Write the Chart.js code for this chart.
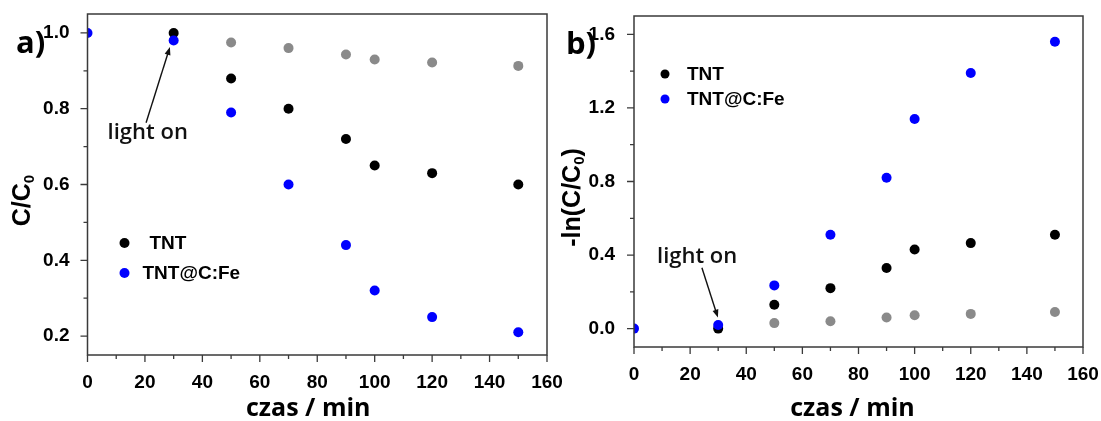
<!DOCTYPE html>
<html>
<head>
<meta charset="utf-8">
<script src="https://cdn.jsdelivr.net/npm/chart.js@4"></script>
<style>
  html, body { margin: 0; padding: 0; background: #fff; }
  body { width: 1101px; height: 421px; position: relative; overflow: hidden; }
  .wrap { position: absolute; top: 0; height: 421px; }
  #wa { left: 0; width: 570px; }
  #wb { left: 553px; width: 548px; }
</style>
</head>
<body>
<div class="wrap" id="wa"><canvas id="ca" width="570" height="421"></canvas></div>
<div class="wrap" id="wb"><canvas id="cb" width="548" height="421"></canvas></div>
<script>
// ---------- DATA ----------
// Panel a) C/C0 vs time
const timeA_TNT   = [30, 50, 70, 90, 100, 120, 150];
const cA_TNT      = [1.00, 0.88, 0.80, 0.72, 0.65, 0.63, 0.60];
const timeA_Fe    = [0, 30, 50, 70, 90, 100, 120, 150];
const cA_Fe       = [1.00, 0.98, 0.79, 0.60, 0.44, 0.32, 0.25, 0.21];
const timeA_Gray  = [50, 70, 90, 100, 120, 150];
const cA_Gray     = [0.975, 0.960, 0.943, 0.930, 0.922, 0.913];

// Panel b) -ln(C/C0) vs time
const timeB_TNT   = [30, 50, 70, 90, 100, 120, 150];
const lnB_TNT     = [0.00, 0.13, 0.22, 0.33, 0.43, 0.465, 0.51];
const timeB_Fe    = [0, 30, 50, 70, 90, 100, 120, 150];
const lnB_Fe      = [0.00, 0.02, 0.235, 0.51, 0.82, 1.14, 1.39, 1.56];
const timeB_Gray  = [50, 70, 90, 100, 120, 150];
const lnB_Gray    = [0.03, 0.04, 0.06, 0.073, 0.08, 0.09];

// Tick values
const xTicks       = [0,10,20,30,40,50,60,70,80,90,100,110,120,130,140,150,160];
const xTickLabels  = [0,20,40,60,80,100,120,140,160];
const yTicksA      = [0.2,0.3,0.4,0.5,0.6,0.7,0.8,0.9,1.0];
const yTickLabelsA = [0.2,0.4,0.6,0.8,1.0];
const yTicksB      = [0.0,0.2,0.4,0.6,0.8,1.0,1.2,1.4,1.6];
const yTickLabelsB = [0.0,0.4,0.8,1.2,1.6];

const seriesNames = ['TNT@C:Fe', 'TNT', ''];
// ---------- END DATA ----------

const COL_BLUE = '#0000ff', COL_BLACK = '#000000', COL_GRAY = '#8a8a8a';
const AXIS_COL = '#3a3a3a';
const TICK_FONT = { family: '"Liberation Sans", Arial, sans-serif', size: 19, weight: 'bold' };

function pts(xs, ys) { return xs.map((x, i) => ({ x: x, y: ys[i] })); }
function isMajor(v, list) { return list.some(l => Math.abs(l - v) < 1e-9); }

// Draw box and outward ticks (major longer, minor shorter)
const framePlugin = {
  id: 'frame',
  afterDraw(chart) {
    const { ctx, chartArea: a, scales } = chart;
    ctx.save();
    ctx.strokeStyle = AXIS_COL;
    ctx.lineWidth = 1.5;
    ctx.strokeRect(a.left, a.top, a.right - a.left, a.bottom - a.top);
    const cfg = chart.options.plugins.frame;
    ctx.lineWidth = 1.3;
    ctx.beginPath();
    cfg.xTicks.forEach(v => {
      const px = scales.x.getPixelForValue(v);
      const len = isMajor(v, cfg.xLabels) ? 7 : 4;
      ctx.moveTo(px, a.bottom); ctx.lineTo(px, a.bottom + len);
    });
    cfg.yTicks.forEach(v => {
      const py = scales.y.getPixelForValue(v);
      const len = isMajor(v, cfg.yLabels) ? 7 : 4;
      ctx.moveTo(a.left, py); ctx.lineTo(a.left - len, py);
    });
    ctx.stroke();
    ctx.restore();
  }
};

// Draw text with a subscript part: parts = [[text, isSub], ...]
function drawRich(ctx, parts, x, y, mainFont, subFont, subDy) {
  let w = 0;
  parts.forEach(p => { ctx.font = p[1] ? subFont : mainFont; w += ctx.measureText(p[0]).width; });
  let cx = x - w / 2;
  parts.forEach(p => {
    ctx.font = p[1] ? subFont : mainFont;
    ctx.fillText(p[0], cx, y + (p[1] ? subDy : 0));
    cx += ctx.measureText(p[0]).width;
  });
}

// Axis titles, panel letter, inner legend, "light on" annotation
const annoPlugin = {
  id: 'anno',
  afterDatasetsDraw(chart) {
    const { ctx, chartArea: a, scales } = chart;
    const cfg = chart.options.plugins.anno;
    ctx.save();
    ctx.fillStyle = '#000';
    ctx.textAlign = 'left';
    // x title
    ctx.textBaseline = 'alphabetic';
    ctx.font = 'bold 25px "Open Sans", sans-serif';
    ctx.textAlign = 'center';
    ctx.fillText(cfg.xTitle, (a.left + a.right) / 2 + cfg.xTitleDx, cfg.xTitleY);
    // y title (rotated)
    ctx.save();
    ctx.translate(cfg.yTitleX, (a.top + a.bottom) / 2 + cfg.yTitleDy);
    ctx.rotate(-Math.PI / 2);
    ctx.textAlign = 'left';
    ctx.textBaseline = 'middle';
    drawRich(ctx, cfg.yTitle, 0, 0, 'bold 25px "Liberation Sans", Arial, sans-serif',
             'bold 15px "Liberation Sans", Arial, sans-serif', 7);
    ctx.restore();
    // panel letter
    ctx.textAlign = 'left';
    ctx.textBaseline = 'middle';
    ctx.font = 'bold 31px "Open Sans", sans-serif';
    ctx.fillText(cfg.letter, cfg.letterX, cfg.letterY);
    // legend
    ctx.font = 'bold 19px "Liberation Sans", Arial, sans-serif';
    cfg.legend.forEach(item => {
      const ds = chart.data.datasets[item.ds];
      ctx.fillStyle = ds.backgroundColor;
      ctx.beginPath();
      ctx.arc(a.left + item.dx, a.top + item.dy, item.r, 0, Math.PI * 2);
      ctx.fill();
      ctx.fillStyle = '#000';
      ctx.fillText(ds.label, a.left + item.tx, a.top + item.dy + 1);
    });
    // "light on" text
    const t = cfg.light;
    ctx.font = '600 22px "Open Sans", sans-serif';
    ctx.fillStyle = '#111';
    ctx.fillText('light on', scales.x.getPixelForValue(t.tx), scales.y.getPixelForValue(t.ty));
    // arrow
    const x1 = scales.x.getPixelForValue(t.ax1), y1 = scales.y.getPixelForValue(t.ay1);
    const x2 = scales.x.getPixelForValue(t.ax2), y2 = scales.y.getPixelForValue(t.ay2);
    const ang = Math.atan2(y2 - y1, x2 - x1);
    const hl = 8, hw = 3;
    ctx.strokeStyle = '#111';
    ctx.lineWidth = 1.4;
    ctx.beginPath();
    ctx.moveTo(x1, y1);
    ctx.lineTo(x2 - hl * 0.8 * Math.cos(ang), y2 - hl * 0.8 * Math.sin(ang));
    ctx.stroke();
    ctx.beginPath();
    ctx.moveTo(x2, y2);
    ctx.lineTo(x2 - hl * Math.cos(ang) + hw * Math.sin(ang), y2 - hl * Math.sin(ang) - hw * Math.cos(ang));
    ctx.lineTo(x2 - hl * Math.cos(ang) - hw * Math.sin(ang), y2 - hl * Math.sin(ang) + hw * Math.cos(ang));
    ctx.closePath();
    ctx.fillStyle = '#111';
    ctx.fill();
    ctx.restore();
  }
};

function makeChart(canvasId, p) {
  return new Chart(document.getElementById(canvasId), {
    type: 'scatter',
    data: {
      datasets: [
        { label: seriesNames[0], data: p.fe,   backgroundColor: COL_BLUE,  pointRadius: 5, pointBorderWidth: 0, pointHoverRadius: 5 },
        { label: seriesNames[1], data: p.tnt,  backgroundColor: COL_BLACK, pointRadius: 5, pointBorderWidth: 0, pointHoverRadius: 5 },
        { label: seriesNames[2], data: p.gray, backgroundColor: COL_GRAY,  pointRadius: 5, pointBorderWidth: 0, pointHoverRadius: 5 }
      ]
    },
    options: {
      responsive: false,
      animation: false,
      events: [],
      layout: { padding: { top: p.padTop, right: p.padRight, left: 0, bottom: 0 } },
      scales: {
        x: {
          type: 'linear', min: 0, max: 160,
          afterFit: s => { s.height = p.xH; s.paddingLeft = 0; s.paddingRight = 0; s.paddingTop = 0; s.paddingBottom = 0; },
          afterBuildTicks: s => { s.ticks = xTicks.map(v => ({ value: v })); },
          grid: { display: false },
          border: { display: false },
          ticks: {
            autoSkip: false, maxRotation: 0, padding: 8,
            color: '#000', font: TICK_FONT,
            callback: v => isMajor(v, xTickLabels) ? String(v) : ''
          }
        },
        y: {
          type: 'linear', min: p.yMin, max: p.yMax,
          afterFit: s => { s.width = p.yW; s.paddingTop = 0; s.paddingBottom = 0; s.paddingLeft = 0; s.paddingRight = 0; },
          afterBuildTicks: s => { s.ticks = p.yTicks.map(v => ({ value: v })); },
          grid: { display: false },
          border: { display: false },
          ticks: {
            autoSkip: false, padding: p.yPad,
            color: '#000', font: TICK_FONT,
            callback: v => isMajor(v, p.yLabels) ? v.toFixed(1) : ''
          }
        }
      },
      plugins: {
        legend: { display: false },
        tooltip: { enabled: false },
        frame: { xTicks: xTicks, xLabels: xTickLabels, yTicks: p.yTicks, yLabels: p.yLabels },
        anno: p.anno
      }
    },
    plugins: [framePlugin, annoPlugin]
  });
}

makeChart('ca', {
  fe: pts(timeA_Fe, cA_Fe), tnt: pts(timeA_TNT, cA_TNT), gray: pts(timeA_Gray, cA_Gray),
  padTop: 14, padRight: 23, xH: 66, yW: 87.5, yPad: 10,
  yMin: 0.15, yMax: 1.05, yTicks: yTicksA, yLabels: yTickLabelsA,
  anno: {
    xTitle: 'czas / min', xTitleDx: -9, xTitleY: 416,
    yTitle: [['C/C', false], ['0', true]], yTitleX: 23, yTitleDy: 16,
    letter: 'a)', letterX: 16, letterY: 44,
    legend: [ { ds: 1, dx: 37, dy: 229, r: 5, tx: 62 }, { ds: 0, dx: 37, dy: 259, r: 5, tx: 55 } ],
    light: { tx: 7, ty: 0.737, ax1: 20.4, ay1: 0.763, ax2: 28.7, ay2: 0.963 }
  }
});

makeChart('cb', {
  fe: pts(timeB_Fe, lnB_Fe), tnt: pts(timeB_TNT, lnB_TNT), gray: pts(timeB_Gray, lnB_Gray),
  padTop: 16, padRight: 18, xH: 74, yW: 81, yPad: 11,
  yMin: -0.1, yMax: 1.7, yTicks: yTicksB, yLabels: yTickLabelsB,
  anno: {
    xTitle: 'czas / min', xTitleDx: -6, xTitleY: 416,
    yTitle: [['-ln(C/C', false], ['0', true], [')', false]], yTitleX: 20, yTitleDy: 16,
    letter: 'b)', letterX: 13, letterY: 45,
    legend: [ { ds: 1, dx: 31, dy: 58, r: 4.5, tx: 53 }, { ds: 0, dx: 31, dy: 83, r: 4.5, tx: 53 } ],
    light: { tx: 8.2, ty: 0.39, ax1: 24.2, ay1: 0.331, ax2: 29.9, ay2: 0.06 }
  }
});
</script>
</body>
</html>
